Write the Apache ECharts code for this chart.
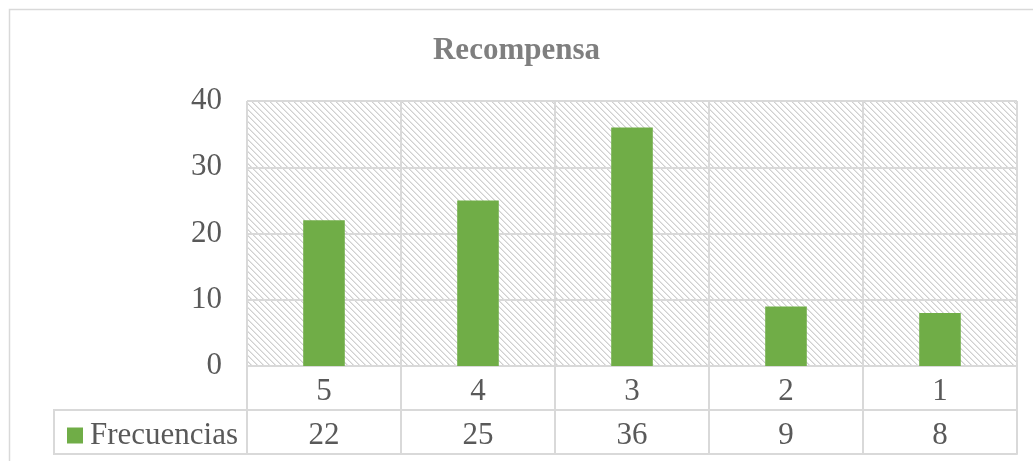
<!DOCTYPE html>
<html>
<head>
<meta charset="utf-8">
<script src="https://cdn.jsdelivr.net/npm/echarts@6/dist/echarts.min.js"></script>
<style>html,body{margin:0;padding:0;background:#fff}#c{width:1033px;height:461px}</style>
</head>
<body>
<div id="c"></div>
<script>
const title = 'Recompensa';
const seriesName = 'Frecuencias';
const categories = ['5', '4', '3', '2', '1'];
const values = [22, 25, 36, 9, 8];
const yTicks = [0, 10, 20, 30, 40];

const FONT = "'Liberation Serif', 'Times New Roman', serif";
const TXT = '#595959';
const LINE = '#d9d9d9';

// hatch pattern (downward diagonal)
const N = 6;
const pc = document.createElement('canvas');
pc.width = N; pc.height = N;
const px = pc.getContext('2d');
px.fillStyle = '#ffffff'; px.fillRect(0, 0, N, N);
for (let i = 0; i < N; i++) {
  px.fillStyle = '#d0d0d0'; px.fillRect(i, i, 1, 1);
  px.fillStyle = '#e6e6e6'; px.fillRect((i + 1) % N, i, 1, 1);
}

const chart = echarts.init(document.getElementById('c'), null, {renderer: 'canvas'});
const catRow = categories.map((c, i) => [c, 1.5, c]);
const valRow = values.map((v, i) => [categories[i], 0.5, String(v)]);

const labelCfg = {show: true, position: 'inside', offset: [0, 4], formatter: p => p.data[2], fontFamily: FONT, fontSize: 31, color: TXT, opacity: 1};

chart.setOption({
  animation: false,
  title: {
    text: title, left: 'center', top: 30,
    textStyle: {fontFamily: FONT, fontSize: 31, fontWeight: 'bold', color: '#7f7f7f'}
  },
  legend: {
    data: [seriesName], left: 62, top: 415, itemWidth: 16, itemHeight: 16, icon: 'rect',
    textStyle: {fontFamily: FONT, fontSize: 31, color: TXT, padding: [0, 0, 0, 2]},
    selectedMode: false
  },
  grid: [
    {left: 247, right: 16, top: 101, height: 265, show: true, borderWidth: 0,
     backgroundColor: {image: pc, repeat: 'repeat'}},
    {left: 247, right: 16, top: 366, height: 88, show: false}
  ],
  xAxis: [
    {type: 'category', gridIndex: 0, data: categories,
     axisLine: {show: false}, axisTick: {show: false}, axisLabel: {show: false},
     splitLine: {show: true, lineStyle: {color: LINE, width: 2}}},
    {type: 'category', gridIndex: 1, data: categories,
     axisLine: {show: true, lineStyle: {color: LINE, width: 2}}, axisTick: {show: false}, axisLabel: {show: false},
     splitLine: {show: true, lineStyle: {color: LINE, width: 2}}}
  ],
  yAxis: [
    {type: 'value', gridIndex: 0, min: 0, max: 40, interval: 10,
     axisLine: {show: false}, axisTick: {show: false},
     axisLabel: {fontFamily: FONT, fontSize: 31, color: TXT, margin: 25, padding: [4, 0, 0, 0]},
     splitLine: {show: true, lineStyle: {color: LINE, width: 2}}},
    {type: 'value', gridIndex: 1, min: 0, max: 2, interval: 1,
     axisLine: {show: true, onZero: false, lineStyle: {color: LINE, width: 2}}, axisTick: {show: false}, axisLabel: {show: false},
     splitLine: {show: true, lineStyle: {color: LINE, width: 2}}}
  ],
  series: [
    {name: seriesName, type: 'bar', xAxisIndex: 0, yAxisIndex: 0, data: values,
     barWidth: '27%', itemStyle: {color: '#70ad47'}},
    {type: 'scatter', xAxisIndex: 1, yAxisIndex: 1, data: catRow, symbolSize: 1, silent: true,
     itemStyle: {color: 'rgba(0,0,0,0)'}, label: labelCfg},
    {type: 'scatter', xAxisIndex: 1, yAxisIndex: 1, data: valRow, symbolSize: 1, silent: true,
     itemStyle: {color: 'rgba(0,0,0,0)'}, label: labelCfg}
  ],
  graphic: [
    {type: 'rect', shape: {x: 9.5, y: 9.5, width: 1100, height: 600}, style: {fill: null, stroke: LINE, lineWidth: 1.5}, silent: true},
    {type: 'polyline', shape: {points: [[247, 410], [54, 410], [54, 454], [247, 454]]}, style: {fill: null, stroke: LINE, lineWidth: 2}, silent: true},
    {type: 'line', shape: {x1: 1017, y1: 101, x2: 1017, y2: 454}, style: {stroke: LINE, lineWidth: 2}, silent: true}
  ]
});
</script>
</body>
</html>
